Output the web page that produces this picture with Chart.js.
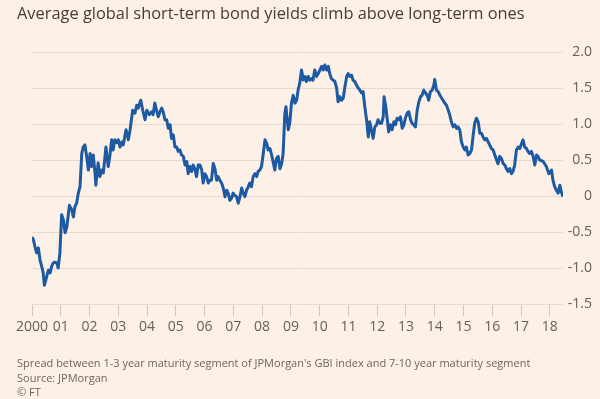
<!DOCTYPE html>
<html>
<head>
<meta charset="utf-8">
<script src="https://cdn.jsdelivr.net/npm/chart.js@4.4.1/dist/chart.umd.min.js"></script>
<style>
  html, body { margin: 0; padding: 0; background: #fdf1e7; }
  #wrap { position: relative; width: 600px; height: 399px; overflow: hidden; font-family: "Open Sans", sans-serif; }
  #chart { position: absolute; left: 0; top: 0; }
  .title { position: absolute; left: 17px; top: 2px; font-size: 16.4px; line-height: 22px; color: #423d39; white-space: nowrap; }
  .foot { position: absolute; left: 17px; top: 356px; font-size: 11px; line-height: 14.5px; color: #6b6560; white-space: nowrap; }
</style>
</head>
<body>
<div id="wrap">
  <canvas id="chart" width="600" height="399"></canvas>
  <div class="title">Average global short-term bond yields climb above long-term ones</div>
  <div class="foot">Spread between 1-3 year maturity segment of JPMorgan's GBI index and 7-10 year maturity segment<br>Source: JPMorgan<br>© FT</div>
</div>
<script>
// spread, percentage points (short-term minus long-term)
const years = [
  2000.00, 2000.05, 2000.10, 2000.16, 2000.22, 2000.28, 2000.34, 2000.39, 2000.43, 2000.51,
  2000.57, 2000.63, 2000.68, 2000.74, 2000.80, 2000.86, 2000.91, 2000.97, 2001.03, 2001.09,
  2001.15, 2001.21, 2001.30, 2001.38, 2001.44, 2001.49, 2001.55, 2001.61, 2001.67, 2001.73,
  2001.78, 2001.84, 2001.90, 2001.96, 2002.02, 2002.07, 2002.13, 2002.19, 2002.22, 2002.30,
  2002.36, 2002.42, 2002.48, 2002.57, 2002.65, 2002.71, 2002.77, 2002.82, 2002.88, 2002.94,
  2003.00, 2003.06, 2003.12, 2003.17, 2003.27, 2003.35, 2003.41, 2003.50, 2003.58, 2003.64,
  2003.69, 2003.78, 2003.85, 2003.93, 2003.99, 2004.08, 2004.16, 2004.21, 2004.27, 2004.33,
  2004.39, 2004.45, 2004.51, 2004.56, 2004.62, 2004.68, 2004.74, 2004.80, 2004.85, 2004.91,
  2004.97, 2005.03, 2005.08, 2005.14, 2005.20, 2005.26, 2005.32, 2005.38, 2005.43, 2005.49,
  2005.55, 2005.60, 2005.66, 2005.72, 2005.78, 2005.84, 2005.90, 2005.95, 2006.01, 2006.07,
  2006.13, 2006.18, 2006.24, 2006.30, 2006.36, 2006.42, 2006.47, 2006.53, 2006.59, 2006.65,
  2006.71, 2006.77, 2006.82, 2006.88, 2006.94, 2006.99, 2007.05, 2007.11, 2007.17, 2007.23,
  2007.29, 2007.34, 2007.40, 2007.46, 2007.52, 2007.57, 2007.63, 2007.69, 2007.75, 2007.81,
  2007.86, 2007.92, 2007.98, 2008.04, 2008.10, 2008.16, 2008.21, 2008.27, 2008.33, 2008.38,
  2008.44, 2008.50, 2008.56, 2008.62, 2008.68, 2008.73, 2008.79, 2008.83, 2008.87, 2008.91,
  2008.96, 2009.02, 2009.08, 2009.14, 2009.20, 2009.25, 2009.31, 2009.37, 2009.43, 2009.49,
  2009.54, 2009.60, 2009.66, 2009.72, 2009.77, 2009.83, 2009.89, 2009.95, 2010.01, 2010.07,
  2010.12, 2010.18, 2010.24, 2010.30, 2010.35, 2010.41, 2010.47, 2010.53, 2010.59, 2010.64,
  2010.70, 2010.76, 2010.82, 2010.88, 2010.94, 2010.99, 2011.05, 2011.11, 2011.16, 2011.22,
  2011.28, 2011.34, 2011.40, 2011.46, 2011.51, 2011.57, 2011.63, 2011.69, 2011.74, 2011.80,
  2011.86, 2011.92, 2011.98, 2012.03, 2012.09, 2012.15, 2012.21, 2012.24, 2012.30, 2012.35,
  2012.40, 2012.46, 2012.52, 2012.58, 2012.64, 2012.69, 2012.75, 2012.81, 2012.87, 2012.93,
  2012.98, 2013.04, 2013.10, 2013.16, 2013.21, 2013.27, 2013.33, 2013.39, 2013.45, 2013.51,
  2013.56, 2013.62, 2013.68, 2013.74, 2013.79, 2013.85, 2013.91, 2013.97, 2014.00, 2014.06,
  2014.12, 2014.18, 2014.24, 2014.29, 2014.35, 2014.41, 2014.47, 2014.52, 2014.58, 2014.64,
  2014.70, 2014.76, 2014.81, 2014.87, 2014.93, 2014.99, 2015.05, 2015.10, 2015.16, 2015.22,
  2015.28, 2015.33, 2015.39, 2015.45, 2015.51, 2015.57, 2015.63, 2015.68, 2015.74, 2015.80,
  2015.86, 2015.91, 2015.97, 2016.03, 2016.09, 2016.15, 2016.20, 2016.26, 2016.32, 2016.38,
  2016.44, 2016.49, 2016.55, 2016.61, 2016.67, 2016.72, 2016.78, 2016.84, 2016.90, 2016.96,
  2017.02, 2017.07, 2017.13, 2017.19, 2017.24, 2017.30, 2017.36, 2017.42, 2017.48, 2017.54,
  2017.59, 2017.65, 2017.77, 2017.88, 2017.97, 2018.06, 2018.11, 2018.17, 2018.23, 2018.29,
  2018.35, 2018.40, 2018.46
];

const spread = [
  -0.57, -0.61, -0.70, -0.79, -0.72, -0.89, -0.98, -1.07, -1.24, -1.12,
  -1.03, -1.07, -0.98, -0.93, -0.92, -0.93, -1.00, -0.79, -0.26, -0.33,
  -0.51, -0.43, -0.13, -0.19, -0.29, -0.15, -0.10, 0.04, 0.13, 0.59,
  0.68, 0.71, 0.55, 0.36, 0.59, 0.41, 0.57, 0.32, 0.15, 0.46,
  0.27, 0.36, 0.32, 0.68, 0.41, 0.57, 0.78, 0.64, 0.78, 0.74,
  0.78, 0.68, 0.75, 0.71, 0.92, 0.78, 0.92, 1.19, 1.15, 1.26,
  1.22, 1.33, 1.19, 1.06, 1.19, 1.13, 1.17, 1.13, 1.29, 1.19,
  1.10, 1.17, 1.22, 1.17, 1.06, 1.06, 0.94, 0.99, 0.80, 0.85,
  0.68, 0.68, 0.62, 0.64, 0.57, 0.55, 0.43, 0.48, 0.31, 0.41,
  0.34, 0.43, 0.38, 0.27, 0.43, 0.43, 0.36, 0.18, 0.31, 0.27,
  0.18, 0.22, 0.22, 0.45, 0.38, 0.22, 0.27, 0.22, 0.18, 0.11,
  -0.01, 0.08, 0.04, -0.06, -0.03, 0.04, 0.01, -0.01, -0.10, -0.01,
  0.11, 0.04, -0.01, 0.08, 0.13, 0.18, 0.13, 0.27, 0.31, 0.27,
  0.34, 0.36, 0.41, 0.59, 0.78, 0.73, 0.64, 0.66, 0.57, 0.48,
  0.36, 0.52, 0.55, 0.38, 0.45, 0.59, 1.15, 1.24, 1.06, 0.92,
  1.01, 1.29, 1.40, 1.29, 1.33, 1.47, 1.57, 1.75, 1.61, 1.66,
  1.59, 1.66, 1.61, 1.63, 1.61, 1.75, 1.66, 1.70, 1.75, 1.80,
  1.75, 1.82, 1.75, 1.80, 1.70, 1.63, 1.61, 1.59, 1.50, 1.31,
  1.38, 1.33, 1.36, 1.52, 1.66, 1.70, 1.66, 1.68, 1.61, 1.59,
  1.54, 1.50, 1.47, 1.43, 1.45, 1.24, 1.06, 0.82, 1.03, 0.92,
  0.80, 0.96, 0.99, 1.06, 1.01, 1.01, 1.10, 1.38, 1.24, 1.06,
  0.89, 0.99, 0.92, 1.03, 0.99, 1.08, 1.06, 1.10, 0.94, 0.99,
  1.08, 1.15, 1.17, 1.06, 1.01, 0.99, 0.96, 1.19, 1.31, 1.38,
  1.40, 1.47, 1.43, 1.40, 1.33, 1.45, 1.47, 1.54, 1.62, 1.47,
  1.45, 1.40, 1.36, 1.33, 1.29, 1.26, 1.19, 1.13, 1.03, 0.96,
  0.99, 0.94, 0.96, 0.92, 0.75, 0.68, 0.64, 0.68, 0.57, 0.59,
  0.64, 0.82, 1.01, 1.08, 1.03, 0.87, 0.87, 0.82, 0.78, 0.80,
  0.75, 0.71, 0.66, 0.64, 0.57, 0.50, 0.45, 0.55, 0.52, 0.45,
  0.43, 0.38, 0.34, 0.38, 0.31, 0.34, 0.43, 0.64, 0.68, 0.66,
  0.73, 0.78, 0.68, 0.66, 0.62, 0.59, 0.62, 0.55, 0.43, 0.57,
  0.55, 0.50, 0.48, 0.41, 0.31, 0.36, 0.22, 0.13, 0.08, 0.04,
  0.15, 0.06, -0.01
];

const yearTicks  = [2000, 2001, 2002, 2003, 2004, 2005, 2006, 2007, 2008, 2009,
                    2010, 2011, 2012, 2013, 2014, 2015, 2016, 2017, 2018];
const yearLabels = ['2000', '01', '02', '03', '04', '05', '06', '07', '08', '09',
                    '10', '11', '12', '13', '14', '15', '16', '17', '18'];

const LINE  = '#1d5aa2';
const GRID  = '#e6dbd1';
const TICK  = '#d3c8be';
const LABEL = '#66605b';
const FONT  = '"Open Sans", sans-serif';

new Chart(document.getElementById('chart'), {
  type: 'line',
  data: {
    datasets: [{
      data: years.map((x, i) => ({ x, y: spread[i] })),
      borderColor: LINE,
      borderWidth: 3,
      borderJoinStyle: 'round',
      pointRadius: 0,
      tension: 0,
      fill: false,
    }]
  },
  options: {
    responsive: false,
    animation: false,
    devicePixelRatio: 1,
    layout: { padding: { left: 32, top: 52, right: 8, bottom: 0 } },
    plugins: { legend: { display: false }, tooltip: { enabled: false } },
    scales: {
      x: {
        type: 'linear',
        min: 2000,
        max: 2018.46,
        afterBuildTicks: s => { s.ticks = yearTicks.map(v => ({ value: v })); },
        afterFit: s => { s.height = 95; },
        ticks: {
          autoSkip: false,
          maxRotation: 0,
          padding: 3,
          color: LABEL,
          font: { family: FONT, size: 14 },
          callback: (v, i) => yearLabels[i],
        },
        grid: { drawOnChartArea: false, drawTicks: true, tickLength: 12, color: TICK },
        border: { display: false },
      },
      y: {
        position: 'right',
        min: -1.5,
        max: 2.0,
        afterFit: s => { s.width = 29; },
        ticks: {
          stepSize: 0.5,
          padding: 4,
          crossAlign: 'far',
          color: LABEL,
          font: { family: FONT, size: 14 },
          callback: v => (v === 0 ? '0' : v.toFixed(1)),
        },
        grid: { drawTicks: false, color: GRID },
        border: { display: false },
      }
    }
  }
});
</script>
</body>
</html>
